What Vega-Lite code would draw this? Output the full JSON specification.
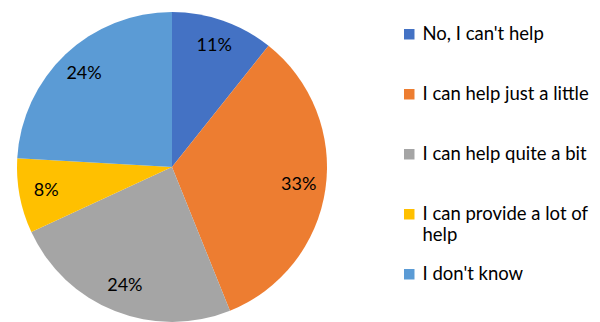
{
  "$schema": "https://vega.github.io/schema/vega-lite/v6.json",
  "autosize": {"type": "none"},
  "padding": {"left": 17, "top": 12, "right": 273, "bottom": 0},
  "width": 310,
  "height": 310,
  "background": "white",
  "data": {
    "values": [
      {"idx": 1, "answer": "No, I can't help", "pct": 10.7, "label": "11%"},
      {"idx": 2, "answer": "I can help just a little", "pct": 33.2, "label": "33%"},
      {"idx": 3, "answer": "I can help quite a bit", "pct": 24.2, "label": "24%"},
      {"idx": 4, "answer": "I can provide a lot of help", "pct": 7.8, "label": "8%"},
      {"idx": 5, "answer": "I don't know", "pct": 24.1, "label": "24%"}
    ]
  },
  "encoding": {
    "theta": {"field": "pct", "type": "quantitative", "stack": true},
    "order": {"field": "idx", "type": "quantitative"},
    "color": {
      "field": "answer",
      "type": "nominal",
      "sort": ["No, I can't help", "I can help just a little", "I can help quite a bit", "I can provide a lot of help", "I don't know"],
      "scale": {
        "domain": ["No, I can't help", "I can help just a little", "I can help quite a bit", "I can provide a lot of help", "I don't know"],
        "range": ["#4472C4", "#ED7D31", "#A5A5A5", "#FFC000", "#5B9BD5"]
      },
      "legend": {
        "title": null,
        "orient": "none",
        "legendX": 383,
        "legendY": 13,
        "symbolType": "square",
        "symbolSize": 110,
        "symbolStrokeWidth": 0,
        "labelFont": "Lato",
        "labelFontSize": 18.5,
        "labelColor": "#000000",
        "labelLimit": 300,
        "labelOffset": 4,
        "rowPadding": 20,
        "labelExpr": "datum.label == 'I can provide a lot of help' ? ['I can provide a lot of', 'help'] : [datum.label, ' ']",
        "encode": {"labels": {"update": {"lineHeight": {"value": 24}}}}
      }
    }
  },
  "layer": [
    {"mark": {"type": "arc", "outerRadius": 155, "stroke": null}},
    {
      "mark": {"type": "text", "radius": 128, "font": "Lato", "fontSize": 18},
      "encoding": {
        "text": {"field": "label", "type": "nominal"},
        "color": {"value": "#000000"}
      }
    }
  ],
  "config": {"view": {"stroke": null}}
}
